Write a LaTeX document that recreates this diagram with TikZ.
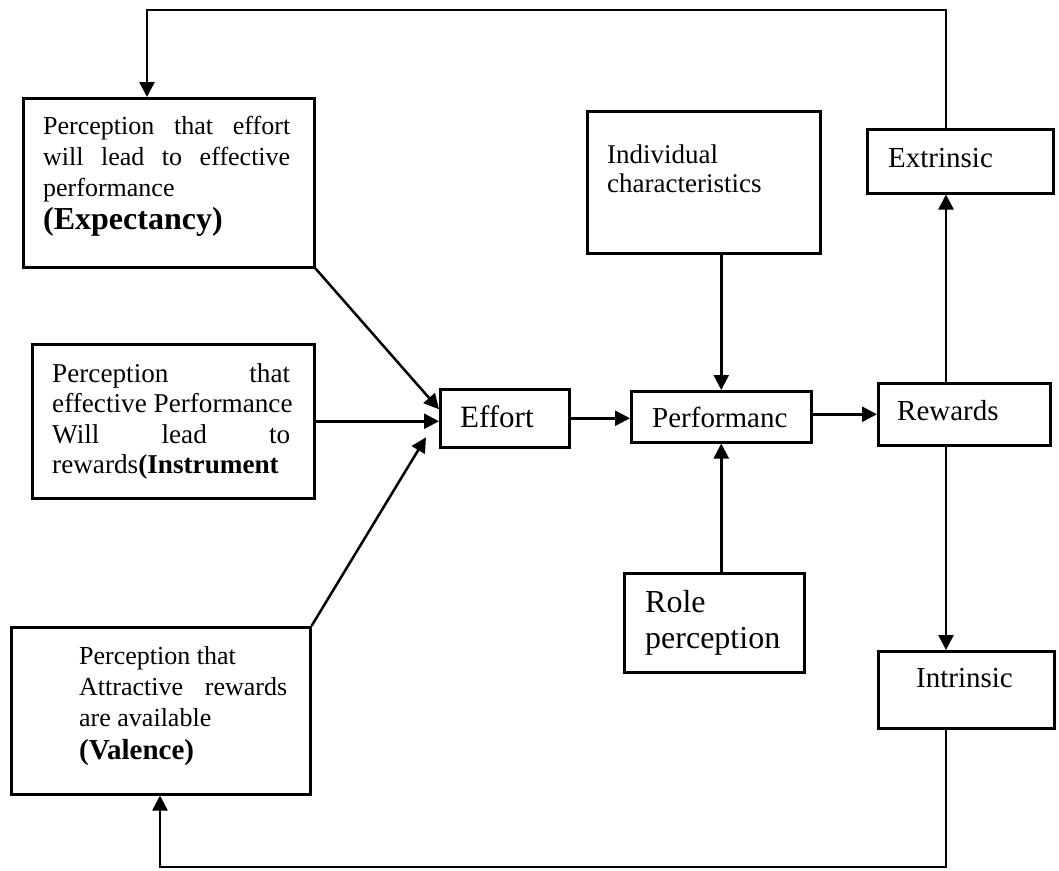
\documentclass[tikz,border=0pt]{standalone}
\usepackage{fontspec}
\setmainfont{Liberation Serif}
\usetikzlibrary{arrows.meta,calc}
\begin{document}
\begin{tikzpicture}[x=1pt,y=-1pt,line join=miter,
  box/.style={draw, line width=2.5pt, inner sep=0pt, anchor=north west},
  txt/.style={inner sep=0pt, anchor=north west},
  word/.style={inner sep=0pt, anchor=west},
  link/.style={line width=2.5pt, -{Triangle[length=15pt,width=15pt]}}]
\useasboundingbox (0,0) rectangle (1059,870);

% boxes
\node[box, minimum width=291pt, minimum height=169pt] (exp)  at (22,97)  {};
\node[box, minimum width=282pt, minimum height=154pt] (ins)  at (31,343) {};
\node[box, minimum width=299pt, minimum height=167pt] (val)  at (10,626) {};
\node[box, minimum width=129pt, minimum height=58pt]  (eff)  at (439,388) {};
\node[box, minimum width=180pt, minimum height=51pt]  (perf) at (630,390) {};
\node[box, minimum width=172pt, minimum height=62pt]  (rew)  at (877,382) {};
\node[box, minimum width=233pt, minimum height=142pt] (ind)  at (586,110) {};
\node[box, minimum width=186pt, minimum height=64pt]  (ext)  at (866,128) {};
\node[box, minimum width=180pt, minimum height=99pt]  (role) at (623,572) {};
\node[box, minimum width=176pt, minimum height=77pt]  (intr) at (877,650) {};

% box texts
\node[txt] (exptxt) at (43,116) {\parbox{247pt}{\fontsize{26}{31}\selectfont
  \makebox[\linewidth][s]{Perception that effort}\\
  \makebox[\linewidth][s]{will lead to effective}\\
  performance\\[2pt]
  {\fontsize{32}{35}\selectfont\bfseries (Expectancy)}}};

\node[txt] (instxt) at (52,363) {\parbox{238pt}{\fontsize{27.2}{30.5}\selectfont
  \makebox[\linewidth][s]{Perception that}\\
  \makebox[\linewidth][l]{effective Performance}\\
  \makebox[\linewidth][s]{Will lead to}\\
  \makebox[\linewidth][l]{rewards\textbf{(Instrument}}}};

\node[txt] (valtxt) at (79,646) {\parbox{208pt}{\fontsize{26}{31}\selectfont
  Perception that\\
  \makebox[\linewidth][s]{Attractive rewards}\\
  are available\\[2pt]
  {\fontsize{29}{33}\selectfont\bfseries (Valence)}}};

\node[txt] (indtxt) at (607,145) {\parbox{200pt}{\fontsize{27}{28.5}\selectfont
  Individual\\ characteristics}};

\node[txt] (roletxt) at (645,590) {\parbox{150pt}{\fontsize{32}{36}\selectfont
  Role\\ perception}};

\node[word] (efftxt)  at (460,417) {\fontsize{31}{35}\selectfont Effort};
\node[word] (perftxt) at (652,417) {\fontsize{29}{33}\selectfont Performanc};
\node[word] (rewtxt)  at (897,411) {\fontsize{29}{33}\selectfont Rewards};
\node[word] (exttxt)  at (888,158) {\fontsize{29}{33}\selectfont Extrinsic};
\node[word] (intrtxt) at (916,678) {\fontsize{29}{33}\selectfont Intrinsic};

% feedback loop corners
\coordinate (tr) at (946,10);
\coordinate (tl) at (147,10);
\coordinate (br) at (946,867);
\coordinate (bl) at (160,867);

% connectors into effort
\draw[link] (exp.south east) -- ($(eff.west)+(0,-9)$);
\draw[link] (ins.east) -- (ins.east -| eff.west);
\draw[link] (val.north east) -- ($(eff.west)+(-13,19)$);

% main chain
\draw[link] (eff.east) -- (eff.east -| perf.west);
\draw[link] (rew.west -| perf.east) -- (rew.west);
\draw[link] (ind.south -| perf.north) -- (perf.north);
\draw[link] (perf.south |- role.north) -- (perf.south);

% rewards split
\draw[link] (rew.north -| tr) -- (ext.south -| tr);
\draw[link] (rew.south -| tr) -- (intr.north -| tr);

% feedback loops
\draw[link] (ext.north -| tr) -- (tr) -- (tl) -- (exp.north -| tl);
\draw[link] (intr.south -| br) -- (br) -- (bl) -- (val.south -| bl);
\end{tikzpicture}
\end{document}
